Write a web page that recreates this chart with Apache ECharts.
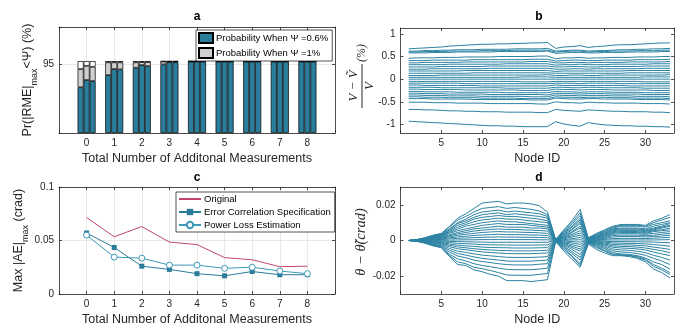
<!DOCTYPE html>
<html>
<head>
<meta charset="UTF-8">
<title>figure</title>
<script src="https://cdn.jsdelivr.net/npm/echarts@6/dist/echarts.min.js"></script>
<style>html,body{margin:0;padding:0;background:#fff;} #main{width:683px;height:329px;}</style>
</head>
<body>
<div id="main"></div>
<script>
// ---- panel a / c : x categories
var measCount = [0, 1, 2, 3, 4, 5, 6, 7, 8];
// panel a: cumulative probability (%), three bars per group
var probLow = [[63.6, 73.7, 72.3], [80.6, 89.0, 88.5], [90.8, 94.5, 93.1], [95.4, 98.5, 98.5],
  [99.3, 99.3, 99.3], [99.3, 99.3, 99.3], [99.3, 99.3, 99.3], [99.3, 99.3, 99.3], [99.3, 99.3, 99.3]];
var probHigh = [[89.0, 93.5, 92.1], [98.3, 98.3, 98.3], [98.3, 98.6, 98.6], [99.5, 99.5, 99.5],
  [99.8, 99.8, 99.8], [99.8, 99.8, 99.8], [99.8, 99.8, 99.8], [99.8, 99.8, 99.8], [99.8, 99.8, 99.8]];
var fullScale = 100;
// panel c
var maxOriginal = [0.0715, 0.0535, 0.0630, 0.0485, 0.0462, 0.0340, 0.0320, 0.0255, 0.0260];
var maxErrCorr = [0.0570, 0.0435, 0.0260, 0.0230, 0.0190, 0.0170, 0.0210, 0.0180, 0.0180];
var maxPowLoss = [0.0550, 0.0345, 0.0335, 0.0270, 0.0270, 0.0240, 0.0250, 0.0215, 0.0190];

// ---- panel b / d : node ids
var nodeId = [1,2,3,4,5,6,7,8,9,10,11,12,13,14,15,16,17,18,19,20,21,22,23,24,25,26,27,28,29,30,31,32,33];
// panel b: relative voltage error (%) per scenario
var voltLines = [
  [0.67,0.68,0.69,0.70,0.71,0.73,0.74,0.75,0.76,0.77,0.77,0.78,0.78,0.79,0.79,0.80,0.80,0.81, 0.68,0.71,0.72,0.74, 0.70,0.72,0.73,0.75,0.76,0.76,0.77,0.78,0.79,0.80,0.80],
  [0.62,0.62,0.63,0.63,0.64,0.64,0.65,0.65,0.65,0.66,0.66,0.66,0.66,0.67,0.67,0.67,0.67,0.68, 0.62,0.63,0.64,0.64, 0.62,0.63,0.63,0.64,0.65,0.65,0.66,0.66,0.67,0.67,0.68],
  [0.60,0.60,0.61,0.61,0.61,0.62,0.62,0.62,0.62,0.63,0.63,0.63,0.63,0.64,0.64,0.64,0.64,0.64, 0.60,0.61,0.62,0.62, 0.60,0.61,0.61,0.62,0.62,0.62,0.63,0.63,0.63,0.64,0.64],
  [0.58,0.58,0.58,0.59,0.59,0.59,0.60,0.60,0.60,0.60,0.60,0.61,0.61,0.61,0.61,0.61,0.61,0.62, 0.57,0.58,0.59,0.59, 0.58,0.58,0.59,0.59,0.59,0.60,0.60,0.60,0.60,0.61,0.61],
  [0.46,0.47,0.47,0.47,0.48,0.48,0.48,0.49,0.49,0.49,0.49,0.50,0.50,0.50,0.50,0.50,0.51,0.51, 0.45,0.47,0.47,0.48, 0.46,0.47,0.47,0.48,0.48,0.48,0.49,0.49,0.49,0.50,0.50],
  [0.41,0.41,0.41,0.42,0.42,0.42,0.42,0.42,0.43,0.43,0.43,0.43,0.43,0.43,0.43,0.44,0.44,0.44, 0.40,0.41,0.42,0.42, 0.41,0.41,0.42,0.42,0.42,0.42,0.43,0.43,0.43,0.43,0.44],
  [0.36,0.36,0.37,0.37,0.37,0.37,0.37,0.38,0.38,0.38,0.38,0.38,0.38,0.38,0.38,0.39,0.39,0.39, 0.36,0.36,0.37,0.37, 0.36,0.37,0.37,0.37,0.37,0.38,0.38,0.38,0.38,0.38,0.39],
  [0.32,0.32,0.32,0.32,0.32,0.33,0.33,0.33,0.33,0.33,0.33,0.33,0.34,0.34,0.34,0.34,0.34,0.34, 0.31,0.32,0.32,0.33, 0.32,0.32,0.32,0.33,0.33,0.33,0.33,0.33,0.34,0.34,0.34],
  [0.27,0.27,0.27,0.27,0.28,0.28,0.28,0.28,0.28,0.28,0.29,0.29,0.29,0.29,0.29,0.29,0.29,0.29, 0.27,0.27,0.28,0.28, 0.27,0.27,0.28,0.28,0.28,0.28,0.28,0.29,0.29,0.29,0.29],
  [0.22,0.22,0.22,0.23,0.23,0.23,0.23,0.23,0.23,0.23,0.24,0.24,0.24,0.24,0.24,0.24,0.24,0.24, 0.22,0.22,0.23,0.23, 0.22,0.23,0.23,0.23,0.23,0.23,0.23,0.24,0.24,0.24,0.24],
  [0.18,0.18,0.18,0.18,0.18,0.18,0.18,0.19,0.19,0.19,0.19,0.19,0.19,0.19,0.19,0.19,0.19,0.19, 0.17,0.18,0.18,0.18, 0.18,0.18,0.18,0.18,0.18,0.19,0.19,0.19,0.19,0.19,0.19],
  [0.13,0.13,0.13,0.13,0.13,0.13,0.13,0.13,0.14,0.14,0.14,0.14,0.14,0.14,0.14,0.14,0.14,0.14, 0.13,0.13,0.13,0.13, 0.13,0.13,0.13,0.13,0.13,0.14,0.14,0.14,0.14,0.14,0.14],
  [0.08,0.08,0.08,0.08,0.09,0.09,0.09,0.09,0.09,0.09,0.09,0.09,0.09,0.09,0.09,0.09,0.09,0.10, 0.08,0.08,0.09,0.09, 0.08,0.08,0.09,0.09,0.09,0.09,0.09,0.09,0.09,0.09,0.10],
  [0.04,0.04,0.04,0.04,0.04,0.04,0.04,0.04,0.04,0.04,0.04,0.04,0.04,0.04,0.05,0.05,0.05,0.05, 0.04,0.04,0.04,0.04, 0.04,0.04,0.04,0.04,0.04,0.04,0.04,0.05,0.05,0.05,0.05],
  [0.00,0.00,0.00,0.00,0.00,0.00,0.00,0.00,0.00,0.00,0.00,0.00,0.00,0.00,0.00,0.00,0.00,0.00, 0.00,0.00,0.00,0.00, 0.00,0.00,0.00,0.00,0.00,0.00,0.00,0.00,0.00,0.00,0.00],
  [-0.05,-0.05,-0.05,-0.05,-0.05,-0.05,-0.05,-0.05,-0.05,-0.05,-0.05,-0.05,-0.05,-0.05,-0.06,-0.06,-0.06,-0.06, -0.05,-0.05,-0.05,-0.05, -0.05,-0.05,-0.05,-0.05,-0.05,-0.05,-0.05,-0.06,-0.06,-0.06,-0.06],
  [-0.09,-0.09,-0.09,-0.09,-0.09,-0.09,-0.09,-0.10,-0.10,-0.10,-0.10,-0.10,-0.10,-0.10,-0.10,-0.10,-0.10,-0.10, -0.09,-0.09,-0.09,-0.10, -0.09,-0.09,-0.09,-0.09,-0.10,-0.10,-0.10,-0.10,-0.10,-0.10,-0.10],
  [-0.13,-0.13,-0.14,-0.14,-0.14,-0.14,-0.14,-0.14,-0.14,-0.15,-0.15,-0.15,-0.15,-0.15,-0.15,-0.15,-0.15,-0.15, -0.13,-0.14,-0.14,-0.14, -0.14,-0.14,-0.14,-0.14,-0.14,-0.15,-0.15,-0.15,-0.15,-0.15,-0.15],
  [-0.18,-0.18,-0.18,-0.18,-0.19,-0.19,-0.19,-0.19,-0.19,-0.19,-0.19,-0.19,-0.20,-0.20,-0.20,-0.20,-0.20,-0.20, -0.18,-0.18,-0.19,-0.19, -0.18,-0.18,-0.19,-0.19,-0.19,-0.19,-0.19,-0.20,-0.20,-0.20,-0.20],
  [-0.22,-0.22,-0.23,-0.23,-0.23,-0.23,-0.23,-0.24,-0.24,-0.24,-0.24,-0.24,-0.24,-0.24,-0.25,-0.25,-0.25,-0.25, -0.22,-0.23,-0.23,-0.24, -0.23,-0.23,-0.23,-0.24,-0.24,-0.24,-0.24,-0.24,-0.25,-0.25,-0.25],
  [-0.27,-0.27,-0.28,-0.28,-0.28,-0.28,-0.29,-0.29,-0.29,-0.29,-0.29,-0.29,-0.30,-0.30,-0.30,-0.30,-0.30,-0.30, -0.27,-0.28,-0.28,-0.29, -0.28,-0.28,-0.28,-0.29,-0.29,-0.29,-0.29,-0.30,-0.30,-0.30,-0.30],
  [-0.31,-0.31,-0.32,-0.32,-0.32,-0.33,-0.33,-0.33,-0.33,-0.33,-0.34,-0.34,-0.34,-0.34,-0.34,-0.34,-0.34,-0.35, -0.31,-0.32,-0.32,-0.33, -0.32,-0.32,-0.32,-0.33,-0.33,-0.33,-0.33,-0.34,-0.34,-0.34,-0.34],
  [-0.35,-0.35,-0.36,-0.36,-0.36,-0.37,-0.37,-0.37,-0.37,-0.38,-0.38,-0.38,-0.38,-0.38,-0.38,-0.39,-0.39,-0.39, -0.35,-0.36,-0.36,-0.37, -0.36,-0.36,-0.36,-0.37,-0.37,-0.37,-0.38,-0.38,-0.38,-0.38,-0.39],
  [-0.39,-0.39,-0.40,-0.40,-0.40,-0.41,-0.41,-0.41,-0.41,-0.42,-0.42,-0.42,-0.42,-0.42,-0.43,-0.43,-0.43,-0.43, -0.39,-0.40,-0.40,-0.41, -0.40,-0.40,-0.40,-0.41,-0.41,-0.41,-0.42,-0.42,-0.42,-0.42,-0.43],
  [-0.43,-0.43,-0.43,-0.44,-0.44,-0.44,-0.44,-0.44,-0.45,-0.45,-0.45,-0.45,-0.45,-0.45,-0.45,-0.46,-0.46,-0.46, -0.42,-0.43,-0.44,-0.44, -0.43,-0.43,-0.44,-0.44,-0.44,-0.44,-0.45,-0.45,-0.45,-0.45,-0.46],
  [-0.51,-0.51,-0.51,-0.52,-0.52,-0.52,-0.53,-0.53,-0.53,-0.53,-0.54,-0.54,-0.54,-0.54,-0.54,-0.54,-0.55,-0.55, -0.50,-0.52,-0.52,-0.53, -0.51,-0.52,-0.52,-0.53,-0.53,-0.53,-0.53,-0.54,-0.54,-0.54,-0.55],
  [-0.67,-0.67,-0.68,-0.68,-0.69,-0.70,-0.70,-0.71,-0.71,-0.72,-0.72,-0.72,-0.73,-0.73,-0.73,-0.73,-0.74,-0.74, -0.67,-0.69,-0.70,-0.71, -0.68,-0.69,-0.70,-0.71,-0.71,-0.72,-0.72,-0.72,-0.73,-0.73,-0.74],
  [-0.93,-0.94,-0.95,-0.96,-0.97,-0.98,-0.99,-1.00,-1.01,-1.02,-1.03,-1.03,-1.04,-1.04,-1.05,-1.05,-1.05,-1.05, -0.94,-0.99,-1.02,-1.04, -0.96,-0.99,-1.01,-1.02,-1.03,-1.03,-1.04,-1.04,-1.05,-1.05,-1.06]
];
// panel d: angle error, in units of 0.001 crad
var thetaLines = [
  [0,0.5,1.5,3,4,8,12.5,15,18,21,21.5,22,20.5,21,21,20.5,19.5,16, 0.5,6,11,17.5, 1.5,4,6,8,9,9,9,8.5,11,12.5,14.5],
  [0,0.5,1.5,2.8,3.8,7.5,11.5,13.5,16,18,18.5,19,18,18.5,18,17.5,16.5,14.5, 0.4,5.5,10,15.5, 1.2,3.5,5.5,7.5,8.5,8.5,8.5,8,10,11.5,13],
  [0,0.4,1.3,2.5,3.5,6.5,10,12,14.5,16,16.5,17,16,16.5,16,15.5,15,13.5, 0.4,5,9,14, 1,3,5,7,8,8,8,7.5,9,10,11],
  [0,0.4,1.2,2.3,3.2,6,9.5,11,13,14.5,15,15.5,14.5,15,14.5,14,13.5,12.5, 0.3,4.5,8,12.5, 1,3,4.5,6.5,7,7,7,6.5,8,9,10],
  [0,0.3,1.1,2.1,3,5.5,8.5,10,12,13,13.5,14,13.5,13.5,13,12.5,12,11, 0.3,4,7.5,11.5, 0.8,2.5,4,6,6.5,6.5,6.5,6,7,8,9.5],
  [0,0.3,1,1.9,2.7,5,7.5,9,10.5,11.5,12,12.5,12,12,11.5,11,10.5,10, 0.3,3.5,6.5,10.5, 0.8,2.3,3.7,5.5,6,6,6,5.5,6.5,7.5,8.5],
  [0,0.3,0.9,1.7,2.4,4.5,6.5,8,9,10,10.5,11,10.5,10.5,10,9.5,9,8.5, 0.2,3,6,9.5, 0.7,2,3.3,5,5.5,5.5,5.5,5,6,7,8],
  [0,0.2,0.8,1.5,2.1,4,5.5,6.5,7.5,8.5,9,9.5,9,9,9,8.5,8,7.5, 0.2,2.5,5,8, 0.6,1.8,3,4.5,5,5,5,4.5,5.5,6,7],
  [0,0.2,0.7,1.3,1.8,3.2,4.5,5.5,6.5,7,7.5,8,7.5,7.5,7.5,7,7,6.5, 0.2,2,4.5,7, 0.5,1.5,2.5,4,4.5,4.5,4.5,4,5,5.5,6],
  [0,0.2,0.6,1.1,1.5,2.7,3.7,4.5,5.3,5.8,6.2,6.5,6.2,6.2,6,5.8,5.6,5.3, 0.1,1.8,3.5,5.5, 0.4,1.2,2,3.5,3.8,3.8,3.8,3.5,4,4.5,5],
  [0,0.1,0.5,0.9,1.2,2.1,2.9,3.5,4,4.5,4.8,5,4.8,4.8,4.6,4.5,4.3,4, 0.1,1.4,2.7,4.2, 0.3,1,1.6,2.8,3,3,3,2.8,3,3.5,4],
  [0,0.1,0.3,0.6,0.8,1.5,2,2.4,2.8,3.1,3.3,3.5,3.3,3.3,3.2,3.1,3,2.8, 0.1,1,1.9,3, 0.2,0.7,1.1,2,2.2,2.2,2.2,2,2.2,2.5,3],
  [0,0.1,0.2,0.4,0.5,0.9,1.2,1.4,1.6,1.8,1.9,2,1.9,1.9,1.8,1.8,1.7,1.6, 0,0.5,1,1.7, 0.1,0.4,0.6,1.1,1.2,1.2,1.2,1.1,1.3,1.5,1.8],
  [0,0,0.1,0.1,0.1,0.2,0.3,0.4,0.4,0.5,0.5,0.5,0.5,0.5,0.5,0.5,0.4,0.4, 0,0.1,0.3,0.4, 0,0.1,0.2,0.3,0.3,0.3,0.3,0.3,0.3,0.4,0.5],
  [0,0,-0.1,-0.2,-0.3,-0.5,-0.6,-0.7,-0.8,-0.9,-1,-1,-1,-1,-1,-1,-1,-1, 0,-0.3,-0.6,-0.9, 0,-0.2,-0.4,-0.6,-0.6,-0.7,-0.7,-0.8,-0.9,-1.1,-1.3],
  [0,-0.1,-0.3,-0.5,-0.7,-1.2,-1.6,-1.8,-2,-2.3,-2.4,-2.5,-2.5,-2.6,-2.6,-2.6,-2.5,-2.5, -0.1,-0.8,-1.4,-2.2, -0.2,-0.5,-0.9,-1.4,-1.5,-1.6,-1.7,-1.9,-2.3,-2.7,-3.2],
  [0,-0.1,-0.4,-0.8,-1.1,-2,-2.6,-3,-3.3,-3.7,-3.9,-4,-4.1,-4.2,-4.2,-4.2,-4.1,-4, -0.1,-1.2,-2.3,-3.5, -0.3,-0.8,-1.4,-2.2,-2.4,-2.5,-2.7,-3,-3.7,-4.3,-5],
  [0,-0.1,-0.5,-1,-1.4,-2.7,-3.6,-4.1,-4.6,-5,-5.3,-5.5,-5.7,-5.8,-5.8,-5.8,-5.7,-5.5, -0.1,-1.6,-3.2,-4.8, -0.4,-1.2,-2,-3,-3.3,-3.4,-3.7,-4.2,-5,-5.8,-6.8],
  [0,-0.2,-0.6,-1.3,-1.8,-3.5,-4.6,-5.2,-5.8,-6.4,-6.7,-7,-7.3,-7.4,-7.4,-7.4,-7.2,-7, -0.2,-2,-4,-6, -0.5,-1.5,-2.5,-3.8,-4.2,-4.4,-4.7,-5.3,-6.5,-7.5,-8.5],
  [0,-0.2,-0.8,-1.6,-2.3,-4.5,-6,-6.7,-7.5,-8.2,-8.6,-9,-9.4,-9.5,-9.5,-9.5,-9.3,-9, -0.2,-2.6,-5,-7.8, -0.6,-1.9,-3.2,-4.8,-5.3,-5.5,-6,-6.8,-8.3,-9.5,-11],
  [0,-0.2,-1,-2,-2.8,-5.5,-7.3,-8.2,-9.2,-10,-10.5,-11,-11.5,-11.6,-11.6,-11.6,-11.3,-11, -0.3,-3.2,-6.2,-9.5, -0.8,-2.3,-3.9,-5.8,-6.4,-6.7,-7.3,-8.3,-10,-11.5,-13.5],
  [0,-0.3,-1.1,-2.3,-3.2,-6.5,-8.7,-9.7,-11,-11.8,-12.4,-13,-13.5,-13.7,-13.7,-13.7,-13.3,-13, -0.3,-3.8,-7.2,-11, -1,-2.8,-4.6,-6.8,-7.5,-7.8,-8.5,-9.8,-12,-13.5,-16],
  [0,-0.3,-1.3,-2.7,-3.7,-7.7,-10.3,-11.5,-13,-14,-14.7,-15.5,-16.2,-16.4,-16.4,-16.4,-16,-15.5, -0.4,-4.5,-8.5,-13, -1.2,-3.4,-5.5,-7.5,-8,-8.3,-9,-10.5,-13.5,-15.5,-18],
  [0,-0.4,-1.4,-2.9,-3.9,-8.5,-12,-13,-15,-15.8,-16.8,-18,-19.3,-19.5,-19.5,-19.5,-19,-18.5, -0.4,-5,-9,-14, -1.5,-4,-6,-8,-8.3,-8.5,-9.5,-11,-14.5,-16.5,-19],
  [0,-0.5,-1.5,-3,-4,-9,-13.5,-14,-16.5,-17.5,-19,-20,-22.5,-22.5,-22.5,-23,-22.5,-22, -0.5,-6,-10.5,-15, -2,-5,-7,-8.5,-8.5,-9,-10,-12,-16,-18,-21]
];

var fontFam = 'Liberation Sans, Arial, Helvetica, sans-serif';
var ink = '#262626';
var gridCol = '#e3e3e3';
var barBlue = '#2b7d9c';
var barGray = '#cfcfcf';
var lineBlue = '#2b82a2';
var nameLow = 'Probability When \u03A8 =0.6%';
var nameHigh = 'Probability When \u03A8 =1%';

// bar panel uses a category axis with an empty slot on each side
var barCats = [''].concat(measCount.map(String), ['']);
function padded(arr) { return [null].concat(arr, [null]); }

function mkAxis(dim, gridIndex, main, o) {
  var ax = {
    gridIndex: gridIndex, type: o.type || 'value',
    axisLine: {show: true, onZero: false, lineStyle: {color: ink, width: 0.8}},
    axisTick: {show: true, inside: true, length: 3, lineStyle: {color: ink, width: 0.8}},
    axisLabel: {show: main, fontSize: 10, color: ink, margin: 5, fontFamily: fontFam, showMaxLabel: o.showMax !== false},
    splitLine: {show: main && !!o.grid, lineStyle: {color: gridCol, width: 0.8}}
  };
  if (o.type === 'category') {
    ax.data = o.data;
    ax.boundaryGap = false;
  } else {
    ax.min = o.min;
    ax.max = o.max;
  }
  if (o.interval != null) ax.interval = o.interval;
  if (o.custom) {
    ax.axisTick.customValues = o.custom;
    ax.axisLabel.customValues = o.custom;
  }
  if (o.formatter && main) ax.axisLabel.formatter = o.formatter;
  if (!main) ax.position = dim === 'x' ? 'top' : 'right';
  if (main && o.name) {
    ax.name = o.name;
    ax.nameLocation = 'middle';
    ax.nameGap = o.nameGap;
    ax.nameTextStyle = o.nameStyle || {fontSize: 12.5, color: ink, fontFamily: fontFam};
  }
  return ax;
}

var measFmt = function (v) { return (v < 0 || v > 8) ? '' : String(v); };
var nodeFmt = function (v) { return v === 0 ? '' : String(v); };
var subName = function () {
  return {fontSize: 12.5, color: ink, fontFamily: fontFam,
    rich: {n: {fontSize: 12.5, color: ink, fontFamily: fontFam, lineHeight: 22},
           s: {fontSize: 9, color: ink, fontFamily: fontFam, lineHeight: 11, verticalAlign: 'bottom'}}};
};

var xBar = {type: 'category', data: barCats, grid: true, name: 'Total Number of Additonal Measurements', nameGap: 19};
var xA = {min: -1, max: 9, interval: 1, grid: true, formatter: measFmt, name: 'Total Number of Additonal Measurements', nameGap: 19};
var xB = {min: 0, max: 33.5, interval: 5, showMax: false, formatter: nodeFmt, name: 'Node ID', nameGap: 19};
var yA = {min: 0, max: 147.5, interval: 95, grid: true, formatter: function (v) { return v === 95 ? '95' : ''; },
  name: '{n|Pr(|RME|}{s|max}{n|<\u03A8) (%)}', nameGap: 20, nameStyle: subName()};
var yB = {min: -1.19, max: 1.13, custom: [-1, -0.5, 0, 0.5, 1]};
var yC = {min: 0, max: 0.1, interval: 0.05, grid: true,
  name: '{n|Max |AE|}{s|max}{n| (crad)}', nameGap: 29, nameStyle: subName()};
var yD = {min: -0.03, max: 0.03, custom: [-0.02, 0, 0.02]};

var xAxes = [mkAxis('x', 0, true, xBar), mkAxis('x', 0, false, xBar),
             mkAxis('x', 1, true, xB), mkAxis('x', 1, false, xB),
             mkAxis('x', 2, true, xA), mkAxis('x', 2, false, xA),
             mkAxis('x', 3, true, xB), mkAxis('x', 3, false, xB)];
var yAxes = [mkAxis('y', 0, true, yA), mkAxis('y', 0, false, yA),
             mkAxis('y', 1, true, yB), mkAxis('y', 1, false, yB),
             mkAxis('y', 2, true, yC), mkAxis('y', 2, false, yC),
             mkAxis('y', 3, true, yD), mkAxis('y', 3, false, yD)];

var series = [];
// panel a bars: three stacked bars per group
for (var k = 0; k < 3; k++) {
  var common = {type: 'bar', xAxisIndex: 0, yAxisIndex: 0, stack: 'bar' + k, barWidth: 6, barGap: '0%', silent: true};
  series.push(Object.assign({}, common, {
    name: nameLow,
    itemStyle: {color: barBlue, borderColor: '#000', borderWidth: 0.7},
    data: padded(measCount.map(function (m, g) { return probLow[g][k]; }))
  }));
  series.push(Object.assign({}, common, {
    name: nameHigh,
    itemStyle: {color: barGray, borderColor: '#000', borderWidth: 0.7},
    data: padded(measCount.map(function (m, g) { return probHigh[g][k] - probLow[g][k]; }))
  }));
  series.push(Object.assign({}, common, {
    name: 'rest',
    itemStyle: {color: '#fff', borderColor: '#000', borderWidth: 0.7},
    data: padded(measCount.map(function (m, g) { return fullScale - probHigh[g][k]; }))
  }));
}
// panel b lines
voltLines.forEach(function (arr) {
  series.push({type: 'line', xAxisIndex: 2, yAxisIndex: 2, symbol: 'none', silent: true,
    lineStyle: {color: lineBlue, width: 1},
    data: arr.map(function (v, i) { return [nodeId[i], v]; })});
});
// panel c lines
series.push({type: 'line', name: 'Original', xAxisIndex: 4, yAxisIndex: 4, symbol: 'none',
  lineStyle: {color: '#c2456e', width: 1}, itemStyle: {color: '#c2456e'},
  data: measCount.map(function (m, i) { return [m, maxOriginal[i]]; })});
series.push({type: 'line', name: 'Error Correlation Specification', xAxisIndex: 4, yAxisIndex: 4,
  symbol: 'rect', symbolSize: 5, lineStyle: {color: '#2a7b9a', width: 1}, itemStyle: {color: '#2a7b9a'},
  data: measCount.map(function (m, i) { return [m, maxErrCorr[i]]; })});
series.push({type: 'line', name: 'Power Loss Estimation', xAxisIndex: 4, yAxisIndex: 4,
  symbol: 'circle', symbolSize: 6, lineStyle: {color: '#3d9ab8', width: 1},
  itemStyle: {color: '#fff', borderColor: '#3d9ab8', borderWidth: 1},
  data: measCount.map(function (m, i) { return [m, maxPowLoss[i]]; })});
// panel d lines
thetaLines.forEach(function (arr) {
  series.push({type: 'line', xAxisIndex: 6, yAxisIndex: 6, symbol: 'none', silent: true,
    lineStyle: {color: lineBlue, width: 1},
    data: arr.map(function (v, i) { return [nodeId[i], v / 1000]; })});
});

var serif = 'Liberation Serif, DejaVu Serif, serif';
var option = {
  animation: false,
  textStyle: {fontFamily: fontFam},
  grid: [
    {left: 59, top: 27, width: 276, height: 106},
    {left: 400.5, top: 28, width: 273.5, height: 105},
    {left: 59, top: 187, width: 276, height: 107},
    {left: 400.5, top: 187, width: 273.5, height: 107}
  ],
  xAxis: xAxes,
  yAxis: yAxes,
  legend: [
    {data: [nameLow, nameHigh], orient: 'vertical', left: 196, top: 30, icon: 'rect',
     itemWidth: 14, itemHeight: 10, itemGap: 3, padding: [2, 4, 2, 2], selectedMode: false,
     backgroundColor: '#fff', borderColor: ink, borderWidth: 0.8,
     textStyle: {fontSize: 9.5, color: '#000', fontFamily: fontFam, padding: [0, 0, 0, -2]}},
    {data: [{name: 'Original', itemStyle: {opacity: 0}}, 'Error Correlation Specification', 'Power Loss Estimation'],
     orient: 'vertical', left: 176, top: 192, itemWidth: 22, itemHeight: 8, itemGap: 3, padding: [2, 4, 2, 2],
     selectedMode: false, backgroundColor: '#fff', borderColor: ink, borderWidth: 0.8,
     textStyle: {fontSize: 9.5, color: '#000', fontFamily: fontFam, padding: [0, 0, 0, -2]}}
  ],
  graphic: [
    {type: 'text', x: 197, y: 17, style: {text: 'a', font: 'bold 12px ' + fontFam, fill: '#000', align: 'center', verticalAlign: 'middle'}},
    {type: 'text', x: 539, y: 17, style: {text: 'b', font: 'bold 12px ' + fontFam, fill: '#000', align: 'center', verticalAlign: 'middle'}},
    {type: 'text', x: 197, y: 178, style: {text: 'c', font: 'bold 12px ' + fontFam, fill: '#000', align: 'center', verticalAlign: 'middle'}},
    {type: 'text', x: 539, y: 178, style: {text: 'd', font: 'bold 12px ' + fontFam, fill: '#000', align: 'center', verticalAlign: 'middle'}},
    {type: 'group', x: 362, y: 86, rotation: Math.PI / 2, children: [
      {type: 'line', shape: {x1: -22, y1: 0, x2: 22, y2: 0}, style: {stroke: ink, lineWidth: 1}},
      {type: 'text', x: 0, y: -8, style: {text: 'V \u2212 \u1E7C', font: 'italic 13px ' + serif, fill: ink, align: 'center', verticalAlign: 'middle'}},
      {type: 'text', x: 0, y: 8, style: {text: 'V', font: 'italic 13px ' + serif, fill: ink, align: 'center', verticalAlign: 'middle'}},
      {type: 'text', x: 24, y: 0, style: {text: '(%)', font: 'italic 12px ' + serif, fill: ink, align: 'left', verticalAlign: 'middle'}}
    ]},
    {type: 'text', x: 361, y: 242, rotation: Math.PI / 2,
     style: {text: '\u03B8 \u2212 \u03B8\u0303(crad)', font: 'italic 14.5px ' + serif, fill: ink, align: 'center', verticalAlign: 'middle'}}
  ],
  series: series
};

var myChart = echarts.init(document.getElementById('main'));
myChart.setOption(option);
</script>
</body>
</html>
